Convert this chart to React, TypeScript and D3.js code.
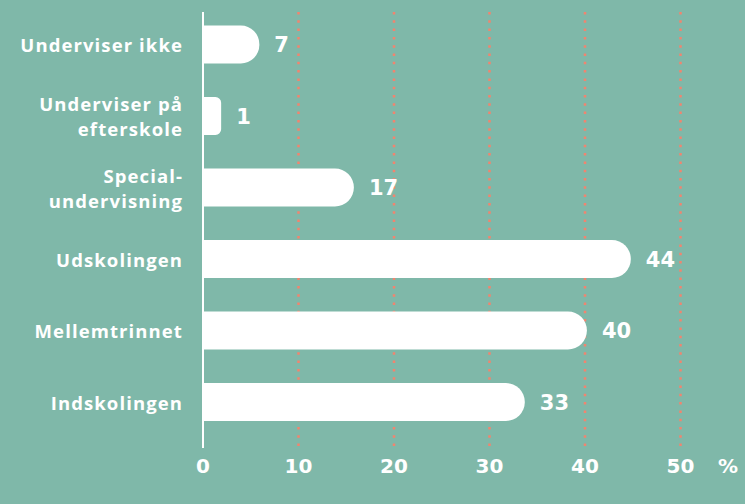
import React from "react";
import * as d3 from "d3";

const categories: string[][] = [
  ["Underviser ikke"],
  ["Underviser på", "efterskole"],
  ["Special-", "undervisning"],
  ["Udskolingen"],
  ["Mellemtrinnet"],
  ["Indskolingen"],
];
const barValues = [5.9, 1.9, 15.8, 44.8, 40.2, 33.7];
const valueLabels = ["7", "1", "17", "44", "40", "33"];
const ticks = [0, 10, 20, 30, 40, 50];

const W = 745;
const H = 504;
const LABEL_FONT = "'Open Sans', sans-serif";
const NUM_FONT = "'DejaVu Sans', sans-serif";

export default function App() {
  const x = d3.scaleLinear().domain([0, 50]).range([203, 680.5]);
  const y = d3
    .scaleBand<number>()
    .domain(d3.range(categories.length))
    .range([8.75, 437.75])
    .paddingInner(0.47)
    .paddingOuter(0.235);
  const bh = y.bandwidth();
  const LINE = 25;

  const barPath = (v: number, top: number) => {
    const x0 = x(0) + 1;
    const x1 = x(v);
    const w = x1 - x0;
    const r = Math.min(bh / 2, w / 3);
    const p = d3.path();
    p.moveTo(x0, top);
    p.lineTo(x1 - r, top);
    p.arcTo(x1, top, x1, top + r, r);
    p.lineTo(x1, top + bh - r);
    p.arcTo(x1, top + bh, x1 - r, top + bh, r);
    p.lineTo(x0, top + bh);
    p.closePath();
    return p.toString();
  };

  return (
    <svg
      width={W}
      height={H}
      style={{ position: "absolute", left: 0, top: 0, display: "block" }}
    >
      <rect width={W} height={H} fill="#7fb8a9" />
      {ticks.slice(1).map((t) => (
        <line
          key={t}
          x1={x(t)}
          x2={x(t)}
          y1={12}
          y2={449}
          stroke="#f2846f"
          strokeWidth={2.5}
          strokeDasharray="2.5 5.8"
        />
      ))}
      {barValues.map((v, i) => {
        const top = y(i)!;
        const lines = categories[i];
        const y0 = top + bh / 2 + 1 - ((lines.length - 1) / 2) * LINE;
        return (
          <g key={i}>
            <path d={barPath(v, top)} fill="#ffffff" />
            <text
              x={x(v) + 15}
              y={top + bh / 2}
              dy="0.36em"
              fill="#ffffff"
              fontFamily={NUM_FONT}
              fontWeight={700}
              fontSize={21}
            >
              {valueLabels[i]}
            </text>
            <text
              textAnchor="end"
              fill="#ffffff"
              fontFamily={LABEL_FONT}
              fontWeight={700}
              fontSize={18.5}
              letterSpacing={1.1}
            >
              {lines.map((line, j) => (
                <tspan key={j} x={183} y={y0 + j * LINE} dy="0.36em">
                  {line}
                </tspan>
              ))}
            </text>
          </g>
        );
      })}
      <line x1={x(0)} x2={x(0)} y1={12} y2={448} stroke="#ffffff" strokeWidth={2} />
      {ticks.map((t) => (
        <text
          key={t}
          x={x(t)}
          y={466}
          dy="0.36em"
          textAnchor="middle"
          fill="#ffffff"
          fontFamily={NUM_FONT}
          fontWeight={700}
          fontSize={20}
        >
          {t}
        </text>
      ))}
      <text
        x={728}
        y={466}
        dy="0.36em"
        textAnchor="middle"
        fill="#ffffff"
        fontFamily={NUM_FONT}
        fontWeight={700}
        fontSize={20}
      >
        %
      </text>
    </svg>
  );
}
